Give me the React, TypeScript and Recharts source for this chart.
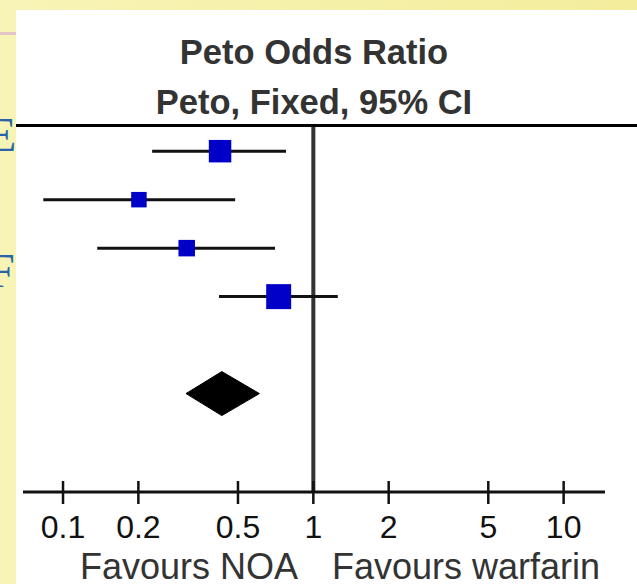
import React from "react";
import { ComposedChart, Line, Scatter, Area, XAxis, YAxis, ReferenceLine } from "recharts";

// Peto odds ratios
const studyRows = [1, 2, 3, 4];
const studyOR = [0.424, 0.201, 0.312, 0.727];
const studyLow = [0.227, 0.0834, 0.137, 0.42];
const studyHigh = [0.778, 0.487, 0.703, 1.252];
const studyWeight = [30.8, 14.6, 16.6, 38.0];

const pooledRow = 6;
const pooledOR = 0.431;
const pooledLow = 0.31;
const pooledHigh = 0.609;

const xTicks = [0.1, 0.2, 0.5, 1, 2, 5, 10];

const W = 637;
const H = 584;
const FONT = "'Liberation Sans', Arial, sans-serif";
const DIAMOND_HALF = 0.454; // in row units
const SQUARE_K = 4.05; // px per sqrt(weight)

const ciData = studyRows.map((r, i) => [
  { x: studyLow[i], y: r },
  { x: studyHigh[i], y: r },
]);
const pointData = studyRows.map((r, i) => ({ x: studyOR[i], y: r, w: studyWeight[i] }));
const diamondData = [
  { x: pooledLow, band: [pooledRow, pooledRow] },
  { x: pooledOR, band: [pooledRow - DIAMOND_HALF, pooledRow + DIAMOND_HALF] },
  { x: pooledHigh, band: [pooledRow, pooledRow] },
];

const Square = (props: any) => {
  const { cx, cy, payload } = props;
  const s = SQUARE_K * Math.sqrt(payload.w);
  return <rect x={cx - s / 2} y={cy - s / 2} width={s} height={s} fill="#0000c8" />;
};

const Tick = (props: any) => {
  const { x, y, payload } = props;
  return (
    <g>
      <line x1={x} x2={x} y1={y - 11} y2={y + 12} stroke="#111" strokeWidth={2.5} />
      <text x={x} y={y + 46} textAnchor="middle" fontFamily={FONT} fontSize={32} fill="#111">
        {payload.value}
      </text>
    </g>
  );
};

export default function App() {
  return (
    <div
      style={{
        position: "absolute",
        left: 0,
        top: 0,
        width: W,
        height: H,
        overflow: "hidden",
        background: "linear-gradient(to right, #f8f4b6, #f3ed9c)",
      }}
    >
      {/* slide text peeking out on the left */}
      <span style={{ position: "absolute", left: -13, top: 107, lineHeight: "normal", fontFamily: "'Liberation Serif', serif", fontSize: 48, color: "#2a64a8" }}>E</span>
      <span style={{ position: "absolute", left: -12, top: 243, lineHeight: "normal", fontFamily: "'Liberation Serif', serif", fontSize: 48, color: "#2a64a8" }}>F</span>
      <div style={{ position: "absolute", left: 0, top: 32, width: 16, height: 3, background: "#e2c4c4" }} />
      <div style={{ position: "absolute", left: 16, top: 10, width: W - 16, height: H - 10, background: "#fff" }} />

      <div style={{ position: "absolute", left: 0, top: 0 }}>
        <ComposedChart width={W} height={H} margin={{ top: 125, right: 32, bottom: 32, left: 23 }}>
          <XAxis
            dataKey="x"
            type="number"
            scale="log"
            domain={[0.0692, 14.63]}
            allowDataOverflow
            ticks={xTicks}
            interval={0}
            tickSize={0}
            tickMargin={0}
            tickLine={false}
            height={60}
            axisLine={{ stroke: "#111", strokeWidth: 3 }}
            tick={<Tick />}
          />
          <YAxis dataKey="y" type="number" domain={[0.46, 8.03]} reversed hide allowDataOverflow />
          <ReferenceLine x={1} stroke="#333" strokeWidth={4} />
          {ciData.map((d, i) => (
            <Line
              key={i}
              data={d}
              dataKey="y"
              stroke="#111"
              strokeWidth={3}
              dot={false}
              activeDot={false}
              isAnimationActive={false}
            />
          ))}
          <Scatter data={pointData} dataKey="y" shape={<Square />} isAnimationActive={false} />
          <Area
            data={diamondData}
            dataKey="band"
            type="linear"
            stroke="#000"
            strokeWidth={1}
            fill="#000"
            fillOpacity={1}
            dot={false}
            activeDot={false}
            isAnimationActive={false}
          />
        </ComposedChart>
      </div>

      <svg width={W} height={H} style={{ position: "absolute", left: 0, top: 0, pointerEvents: "none" }}>
        <text x={314} y={64} textAnchor="middle" fontFamily={FONT} fontWeight="bold" fontSize={34.5} fill="#333">
          Peto Odds Ratio
        </text>
        <text x={314} y={114} textAnchor="middle" fontFamily={FONT} fontWeight="bold" fontSize={34.5} fill="#333">
          Peto, Fixed, 95% CI
        </text>
        <line x1={16} x2={W} y1={125.5} y2={125.5} stroke="#000" strokeWidth={3} />
        <text x={189} y={579} textAnchor="middle" fontFamily={FONT} fontSize={36} fill="#333">
          Favours NOA
        </text>
        <text x={466} y={579} textAnchor="middle" fontFamily={FONT} fontSize={36} fill="#333">
          Favours warfarin
        </text>
      </svg>
    </div>
  );
}
